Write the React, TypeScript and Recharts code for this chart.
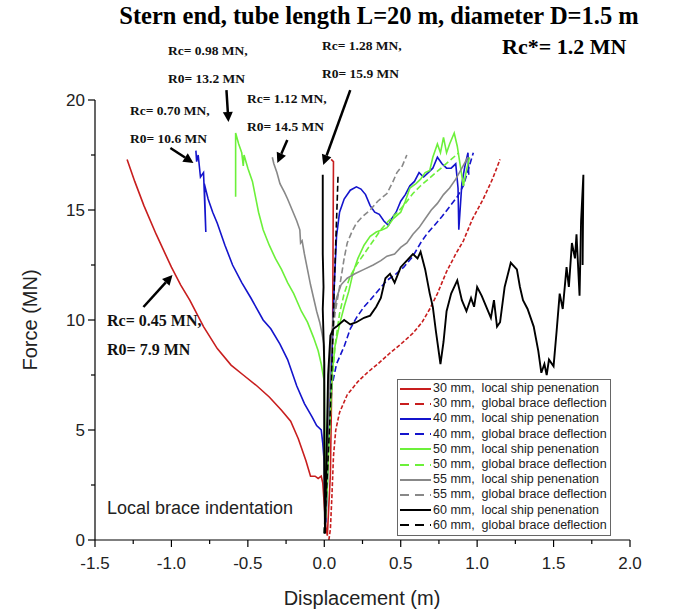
import { LineChart, Line, XAxis, YAxis, ReferenceLine, Legend } from 'recharts'

// [displacement (m), force (MN)] pairs
const red30Local = [
  [-1.29, 17.3], [-1.24, 16.3], [-1.18, 15.2], [-1.1, 13.9], [-1.0, 12.4], [-0.94, 11.6], [-0.88, 10.9],
  [-0.79, 9.7], [-0.7, 8.7], [-0.61, 7.95], [-0.53, 7.5], [-0.44, 7.0], [-0.36, 6.5], [-0.28, 5.9],
  [-0.22, 5.4], [-0.17, 4.6], [-0.12, 3.6], [-0.09, 2.9], [-0.06, 2.9], [-0.04, 2.8], [-0.02, 2.9],
  [-0.01, 2.6], [0.0, 1.6], [0.01, 0.6], [0.02, 0.2], [0.04, 3.0], [0.055, 10.0], [0.06, 17.2], [0.045, 17.3],
]
const red30Global = [
  [0.03, 0.0], [0.04, 0.5], [0.05, 2.0], [0.06, 3.8], [0.075, 5.0], [0.1, 5.8], [0.15, 6.6], [0.22, 7.2],
  [0.28, 7.6], [0.35, 8.0], [0.43, 8.5], [0.5, 8.9], [0.58, 9.4], [0.64, 9.9], [0.69, 10.5], [0.74, 11.2],
  [0.8, 12.2], [0.86, 13.0], [0.91, 13.6], [0.97, 14.6], [1.04, 15.5], [1.1, 16.4], [1.15, 17.3],
]
const blue40Local = [
  [-0.84, 17.7], [-0.835, 17.2], [-0.825, 17.5], [-0.81, 16.5], [-0.79, 16.7], [-0.775, 14.0], [-0.785, 16.2],
  [-0.76, 15.5], [-0.73, 14.9], [-0.7, 14.4], [-0.65, 13.4], [-0.6, 12.5], [-0.54, 11.7], [-0.48, 11.0],
  [-0.4, 10.0], [-0.35, 9.6], [-0.29, 8.9], [-0.24, 8.2], [-0.18, 7.0], [-0.13, 6.2], [-0.08, 5.6],
  [-0.05, 5.2], [-0.02, 5.0], [-0.01, 4.4], [0.0, 3.5], [0.005, 1.5], [0.01, 0.8], [0.02, 2.5], [0.03, 5.0],
  [0.05, 8.5], [0.065, 11.5], [0.08, 13.8], [0.1, 14.9], [0.13, 15.5], [0.17, 15.9], [0.21, 16.05],
  [0.24, 15.95], [0.27, 15.7], [0.3, 15.2], [0.33, 14.9], [0.36, 14.8], [0.39, 14.5], [0.42, 14.3],
  [0.44, 14.6], [0.47, 14.9], [0.5, 15.4], [0.53, 15.7], [0.56, 16.1], [0.59, 16.3], [0.62, 16.7],
  [0.65, 16.5], [0.68, 16.7], [0.71, 16.9], [0.74, 17.4], [0.77, 17.1], [0.8, 16.9], [0.83, 16.9],
  [0.86, 17.1], [0.875, 16.0], [0.88, 14.1], [0.9, 16.2], [0.92, 17.0], [0.94, 17.6], [0.945, 16.6],
]
const blue40Global = [
  [0.0, 0.3], [0.01, 1.5], [0.02, 3.5], [0.035, 5.5], [0.05, 7.0], [0.08, 8.0], [0.13, 8.8], [0.17, 9.6],
  [0.21, 10.1], [0.26, 10.6], [0.3, 10.9], [0.36, 11.4], [0.41, 11.8], [0.47, 12.1], [0.52, 12.4],
  [0.58, 12.9], [0.63, 13.5], [0.67, 13.9], [0.72, 14.3], [0.77, 14.7], [0.82, 15.15], [0.87, 15.6],
  [0.91, 16.1], [0.94, 16.8], [0.975, 17.6],
]
const green50Local = [
  [-0.58, 15.6], [-0.58, 18.5], [-0.56, 18.0], [-0.54, 17.6], [-0.53, 17.0], [-0.525, 17.5], [-0.5, 16.9],
  [-0.47, 16.3], [-0.45, 15.6], [-0.43, 14.9], [-0.4, 14.1], [-0.36, 13.4], [-0.32, 12.8], [-0.28, 12.3],
  [-0.24, 11.7], [-0.2, 11.2], [-0.15, 10.4], [-0.11, 9.9], [-0.07, 9.2], [-0.04, 8.6], [-0.02, 8.0],
  [0.0, 7.2], [0.005, 4.0], [0.01, 1.0], [0.02, 2.5], [0.035, 5.0], [0.05, 7.5], [0.07, 8.8], [0.1, 9.8],
  [0.13, 10.6], [0.16, 11.3], [0.19, 12.2], [0.22, 12.8], [0.26, 13.4], [0.3, 13.8], [0.34, 14.0],
  [0.38, 14.1], [0.41, 14.2], [0.45, 14.6], [0.5, 14.9], [0.53, 15.4], [0.56, 16.0], [0.6, 16.2],
  [0.63, 16.4], [0.66, 16.7], [0.69, 16.8], [0.71, 17.4], [0.74, 18.0], [0.76, 17.6], [0.78, 18.3],
  [0.8, 17.6], [0.82, 18.0], [0.85, 18.5], [0.87, 17.9], [0.89, 17.0], [0.91, 16.1], [0.93, 16.8], [0.95, 17.4],
]
const green50Global = [
  [0.0, 0.3], [0.015, 2.5], [0.03, 4.5], [0.05, 7.0], [0.07, 8.8], [0.1, 10.3], [0.13, 11.2], [0.17, 12.0],
  [0.21, 12.5], [0.26, 13.0], [0.31, 13.5], [0.37, 14.1], [0.42, 14.5], [0.48, 14.9], [0.53, 15.3],
  [0.58, 15.75], [0.63, 16.1], [0.68, 16.4], [0.73, 16.7], [0.78, 17.0], [0.83, 17.3], [0.88, 17.6],
]
const gray55Local = [
  [-0.34, 17.4], [-0.33, 17.1], [-0.31, 16.7], [-0.29, 16.2], [-0.26, 15.8], [-0.24, 15.5], [-0.21, 15.0],
  [-0.18, 14.5], [-0.16, 14.1], [-0.155, 13.5], [-0.145, 13.6], [-0.13, 13.0], [-0.11, 12.3], [-0.09, 11.6],
  [-0.07, 11.0], [-0.05, 10.4], [-0.03, 9.9], [-0.015, 9.4], [0.0, 8.8], [0.0, 4.0], [0.005, 0.3],
  [0.015, 3.0], [0.025, 6.0], [0.04, 8.5], [0.06, 10.2], [0.08, 11.0], [0.11, 11.6], [0.15, 11.9],
  [0.2, 12.1], [0.26, 12.3], [0.32, 12.5], [0.37, 12.7], [0.41, 12.9], [0.46, 13.0], [0.5, 13.3],
  [0.54, 13.5], [0.58, 13.9], [0.62, 14.2], [0.66, 14.6], [0.7, 15.0], [0.74, 15.3], [0.78, 15.7],
  [0.82, 16.0], [0.86, 16.4], [0.9, 16.9], [0.94, 17.4],
]
const gray55Global = [
  [0.0, 0.3], [0.015, 3.0], [0.03, 6.0], [0.045, 8.5], [0.07, 10.3], [0.1, 11.5], [0.13, 12.8], [0.15, 13.5],
  [0.18, 14.0], [0.21, 14.4], [0.25, 14.7], [0.3, 15.0], [0.35, 15.4], [0.41, 15.75], [0.45, 16.3],
  [0.475, 16.7], [0.51, 17.0], [0.54, 17.5],
]
const black60Local = [
  [-0.01, 16.6], [-0.01, 13.0], [-0.005, 11.5], [-0.01, 10.5], [0.0, 8.0], [0.0, 3.0], [0.005, 0.3],
  [0.015, 4.0], [0.025, 7.5], [0.04, 9.3], [0.06, 9.6], [0.08, 9.7], [0.13, 10.0], [0.17, 9.8], [0.21, 9.9],
  [0.26, 10.1], [0.3, 10.2], [0.34, 10.6], [0.37, 11.0], [0.4, 11.9], [0.43, 12.1], [0.46, 11.7],
  [0.5, 12.4], [0.54, 12.7], [0.58, 13.0], [0.61, 12.8], [0.63, 13.1], [0.66, 12.3], [0.69, 11.2],
  [0.71, 10.6], [0.73, 9.5], [0.76, 8.0], [0.78, 9.0], [0.8, 10.4], [0.83, 11.2], [0.87, 11.8],
  [0.9, 10.9], [0.93, 10.4], [0.96, 11.0], [0.98, 10.6], [1.0, 11.5], [1.03, 11.1], [1.06, 10.6],
  [1.09, 10.1], [1.11, 10.9], [1.13, 9.7], [1.15, 9.9], [1.18, 11.5], [1.22, 12.6], [1.26, 12.3],
  [1.28, 11.5], [1.3, 10.9], [1.33, 10.5], [1.37, 9.7], [1.4, 8.6], [1.42, 7.6], [1.44, 8.0], [1.455, 7.5],
  [1.47, 8.2], [1.5, 7.9], [1.52, 9.5], [1.54, 11.2], [1.56, 10.5], [1.585, 12.4], [1.6, 11.5],
  [1.62, 13.5], [1.64, 12.8], [1.65, 13.9], [1.67, 11.1], [1.68, 14.5], [1.695, 16.6], [1.69, 12.5],
]
const black60Global = [
  [0.0, 0.3], [0.02, 3.0], [0.04, 6.0], [0.055, 9.0], [0.065, 11.5], [0.075, 13.5], [0.085, 15.5], [0.09, 16.6],
]

const xTicks = [-1.5, -1.25, -1, -0.75, -0.5, -0.25, 0, 0.25, 0.5, 0.75, 1, 1.25, 1.5, 1.75, 2]
const yTicks = [0, 2.5, 5, 7.5, 10, 12.5, 15, 17.5, 20]

// annotation arrows: tail -> head, in data units
const arrows = [
  [[-1.183, 10.59], [-0.993, 12.05]],
  [[-1.007, 17.82], [-0.856, 17.14]],
  [[-0.64, 20.45], [-0.627, 19.0]],
  [[-0.242, 18.18], [-0.307, 17.14]],
  [[0.17, 20.45], [-0.007, 17.05]],
]

const RED = '#c81e1e'
const BLUE = '#1414cc'
const GREEN = '#6cf03a'
const GRAY = '#888888'
const BLACK = '#000000'

const series = [
  { name: '30 mm,  local ship penenation', data: red30Local, color: RED, dashed: false },
  { name: '30 mm,  global brace deflection', data: red30Global, color: RED, dashed: true },
  { name: '40 mm,  local ship penenation', data: blue40Local, color: BLUE, dashed: false },
  { name: '40 mm,  global brace deflection', data: blue40Global, color: BLUE, dashed: true },
  { name: '50 mm,  local ship penenation', data: green50Local, color: GREEN, dashed: false },
  { name: '50 mm,  global brace deflection', data: green50Global, color: GREEN, dashed: true },
  { name: '55 mm,  local ship penenation', data: gray55Local, color: GRAY, dashed: false },
  { name: '55 mm,  global brace deflection', data: gray55Global, color: GRAY, dashed: true },
  { name: '60 mm,  local ship penenation', data: black60Local, color: BLACK, dashed: false },
  { name: '60 mm,  global brace deflection', data: black60Global, color: BLACK, dashed: true },
]

const toPts = (a: number[][]) => a.map(([x, y]) => ({ x, y }))

const SANS = '"Liberation Sans", Arial, sans-serif'
const SERIF = '"Liberation Serif", "Times New Roman", serif'

const XTick = (props: any) => {
  const { x, y, payload } = props
  const v = payload.value as number
  const major = Math.abs(v * 2 - Math.round(v * 2)) < 1e-6
  return (
    <g>
      <line x1={x} y1={y} x2={x} y2={y + (major ? 7 : 4)} stroke="#000" strokeWidth={1.2} />
      {major && (
        <text x={x} y={y + 29} textAnchor="middle" fontFamily={SANS} fontSize={17} fill="#222">
          {v.toFixed(1)}
        </text>
      )}
    </g>
  )
}

const YTick = (props: any) => {
  const { x, y, payload } = props
  const v = payload.value as number
  const major = v % 5 === 0
  return (
    <g>
      <line x1={x} y1={y} x2={x - (major ? 7 : 4)} y2={y} stroke="#000" strokeWidth={1.2} />
      {major && (
        <text x={x - 10} y={y + 6} textAnchor="end" fontFamily={SANS} fontSize={17} fill="#222">
          {v}
        </text>
      )}
    </g>
  )
}

const Arrow = (p: any) => {
  const { x1, y1, x2, y2 } = p
  const a = Math.atan2(y2 - y1, x2 - x1)
  const len = 10
  const w = 5
  const bx = x2 - len * Math.cos(a)
  const by = y2 - len * Math.sin(a)
  const head = `${x2},${y2} ${bx + w * Math.sin(a)},${by - w * Math.cos(a)} ${bx - w * Math.sin(a)},${by + w * Math.cos(a)}`
  return (
    <g>
      <line x1={x1} y1={y1} x2={bx} y2={by} stroke="#000" strokeWidth={2.5} />
      <polygon points={head} fill="#000" />
    </g>
  )
}

const LegendBox = () => (
  <div
    style={{
      border: '1px solid #666',
      background: '#fff',
      padding: '1px 2px 2px 2px',
      fontFamily: SANS,
      fontSize: 12.5,
      lineHeight: '15.2px',
      color: '#222',
    }}
  >
    {series.map((s) => (
      <div key={s.name} style={{ display: 'flex', alignItems: 'center', whiteSpace: 'pre' }}>
        <svg width={31} height={8} style={{ flex: 'none' }}>
          <line x1={0} y1={4} x2={31} y2={4} stroke={s.color} strokeWidth={2} strokeDasharray={s.dashed ? '9 6' : undefined} />
        </svg>
        <span style={{ marginLeft: 2 }}>{s.name}</span>
      </div>
    ))}
  </div>
)

const notes = [
  { text: 'Rc= 0.98 MN,', x: 168, y: 55, size: 13.5 },
  { text: 'R0= 13.2 MN', x: 168, y: 83, size: 13.5 },
  { text: 'Rc= 1.28 MN,', x: 322, y: 50, size: 13.5 },
  { text: 'R0= 15.9 MN', x: 322, y: 78, size: 13.5 },
  { text: 'Rc= 0.70 MN,', x: 130, y: 115, size: 13.5 },
  { text: 'R0= 10.6 MN', x: 130, y: 143, size: 13.5 },
  { text: 'Rc= 1.12 MN,', x: 247, y: 103, size: 13.5 },
  { text: 'R0= 14.5 MN', x: 247, y: 131, size: 13.5 },
  { text: 'Rc= 0.45 MN,', x: 107, y: 326, size: 16 },
  { text: 'R0= 7.9 MN', x: 107, y: 355, size: 16 },
]

export default function App() {
  return (
    <div style={{ position: 'absolute', left: 0, top: 0, width: 678, height: 616, background: '#fff' }}>
      <LineChart width={678} height={616} margin={{ top: 100, right: 48, bottom: 46, left: 35 }}>
        <XAxis
          type="number"
          dataKey="x"
          domain={[-1.5, 2]}
          ticks={xTicks}
          interval={0}
          allowDataOverflow
          tickLine={false}
          tickSize={0}
          tickMargin={0}
          height={30}
          axisLine={{ stroke: '#000', strokeWidth: 1.2 }}
          tick={<XTick />}
        />
        <YAxis
          type="number"
          dataKey="y"
          domain={[0, 20]}
          ticks={yTicks}
          interval={0}
          allowDataOverflow
          tickLine={false}
          tickSize={0}
          tickMargin={0}
          width={60}
          axisLine={{ stroke: '#000', strokeWidth: 1.2 }}
          tick={<YTick />}
        />
        {series.map((s) => (
          <Line
            key={s.name}
            name={s.name}
            data={toPts(s.data)}
            dataKey="y"
            type="linear"
            stroke={s.color}
            strokeWidth={s.color === BLACK && !s.dashed ? 1.9 : 1.6}
            strokeDasharray={s.dashed ? (s.color === RED ? '4 2' : '6 3') : undefined}
            dot={false}
            activeDot={false}
            isAnimationActive={false}
          />
        ))}
        {arrows.map(([from, to], i) => (
          <ReferenceLine
            key={i}
            segment={[{ x: from[0], y: from[1] }, { x: to[0], y: to[1] }]}
            ifOverflow="visible"
            shape={<Arrow />}
          />
        ))}
        <Legend
          layout="vertical"
          align="center"
          verticalAlign="middle"
          content={<LegendBox />}
          wrapperStyle={{ left: 397, top: 379, width: 214 }}
        />
      </LineChart>
      <svg width={678} height={616} style={{ position: 'absolute', left: 0, top: 0, pointerEvents: 'none' }}>
        <text x={379} y={24} textAnchor="middle" fontFamily={SERIF} fontWeight="bold" fontSize={24.5} fill="#000">
          Stern end, tube length L=20 m, diameter D=1.5 m
        </text>
        <text x={502} y={54} fontFamily={SERIF} fontWeight="bold" fontSize={22} fill="#000">
          Rc*= 1.2 MN
        </text>
        {notes.map((n) => (
          <text key={n.text} x={n.x} y={n.y} fontFamily={SERIF} fontWeight="bold" fontSize={n.size} fill="#111">
            {n.text}
          </text>
        ))}
        <text x={107} y={514} fontFamily={SANS} fontSize={18} fill="#222">
          Local brace indentation
        </text>
        <text x={362} y={605} textAnchor="middle" fontFamily={SANS} fontSize={20} fill="#222">
          Displacement (m)
        </text>
        <text transform="translate(37,320) rotate(-90)" textAnchor="middle" fontFamily={SANS} fontSize={20} fill="#222">
          Force (MN)
        </text>
      </svg>
    </div>
  )
}
